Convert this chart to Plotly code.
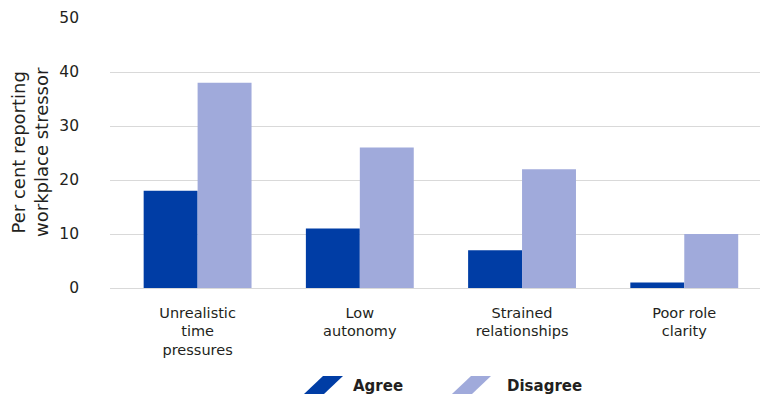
import plotly.graph_objects as go

categories = ["Unrealistic<br>time<br>pressures", "Low<br>autonomy", "Strained<br>relationships", "Poor role<br>clarity"]
agree = [18, 11, 7, 1]
disagree = [38, 26, 22, 10]
y_ticks = [0, 10, 20, 30, 40, 50]

DARK = "#003DA5"
LIGHT = "#A0AADB"
TXT = "#231F20"
FONT = "DejaVu Sans"

# page body adds an 8px offset; work in window pixels
OFF = 8
WIN_W, WIN_H = 768, 401
W, H = WIN_W - OFF, WIN_H - OFF
PL, PR, PT, PB = 110, 767, 18, 288  # plot area in window pixels
ML, MR, MT, MB = PL - OFF, WIN_W - PR, PT - OFF, WIN_H - PB
PW, PH = PR - PL, PB - PT

def px(x):
    return (x - PL) / PW

def py(y):
    return (PB - y) / PH

fig = go.Figure()
fig.add_trace(go.Bar(x=list(range(len(categories))), y=agree, name="Agree",
                     marker=dict(color=DARK, line=dict(width=0))))
fig.add_trace(go.Bar(x=list(range(len(categories))), y=disagree, name="Disagree",
                     marker=dict(color=LIGHT, line=dict(width=0))))

# legend drawn as parallelogram swatches
def para(x0, y0):
    pts = [(x0, y0 + 18), (x0 + 20, y0 + 18), (x0 + 39, y0), (x0 + 19, y0)]
    return "M " + " L ".join(f"{px(a):.4f},{py(b):.4f}" for a, b in pts) + " Z"

shapes = [
    dict(type="path", xref="paper", yref="paper", path=para(304, 376), fillcolor=DARK, line=dict(width=0)),
    dict(type="path", xref="paper", yref="paper", path=para(452, 376), fillcolor=LIGHT, line=dict(width=0)),
]
annotations = [
    dict(text="<b>Agree</b>", x=px(351), y=py(386), xref="paper", yref="paper", xanchor="left",
         yanchor="middle", showarrow=False, font=dict(size=15, color=TXT, family=FONT)),
    dict(text="<b>Disagree</b>", x=px(505), y=py(386), xref="paper", yref="paper", xanchor="left",
         yanchor="middle", showarrow=False, font=dict(size=15, color=TXT, family=FONT)),
    dict(text="Per cent reporting<br>workplace stressor", x=px(30), y=py(152), xref="paper", yref="paper",
         xanchor="center", yanchor="middle", textangle=-90, showarrow=False,
         font=dict(size=18, color=TXT, family=FONT)),
]

fig.update_layout(
    width=W, height=H,
    margin=dict(l=ML, r=MR, t=MT, b=MB, pad=0),
    paper_bgcolor="white", plot_bgcolor="white",
    barmode="group", bargap=0.335, bargroupgap=0,
    showlegend=False,
    font=dict(family=FONT, color=TXT, size=15),
    shapes=shapes, annotations=annotations,
    xaxis=dict(tickmode="array", tickvals=list(range(len(categories))), ticktext=categories,
               range=[-0.54, 3.51], showgrid=False, showline=False, zeroline=False,
               ticks="", ticklabelstandoff=14, tickfont=dict(size=14.5, color=TXT)),
    yaxis=dict(range=[0, 50], tickvals=y_ticks, showgrid=True, gridcolor="#D9D9D9", gridwidth=1,
               zeroline=True, zerolinecolor="#D9D9D9", zerolinewidth=1, showline=False,
               ticks="", ticklabelstandoff=30, tickfont=dict(size=15.5, color=TXT)),
)

fig.write_html("out.html")
